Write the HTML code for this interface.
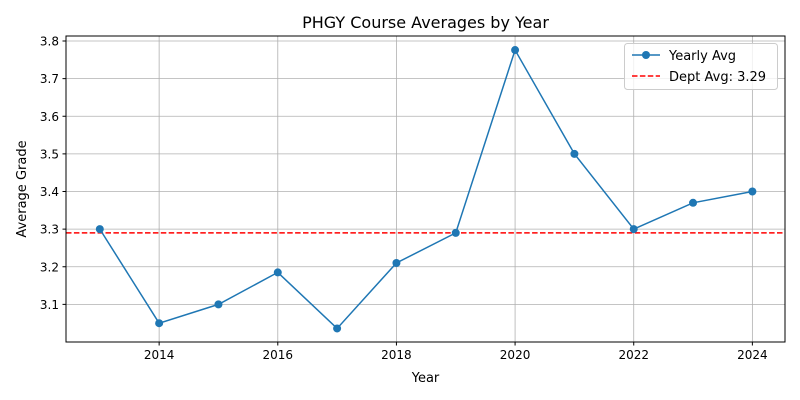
<!DOCTYPE html>
<html><head><meta charset="utf-8"><style>
body{margin:0;background:#fff;}
svg{display:block;font-family:"DejaVu Sans","Liberation Sans",sans-serif;}
</style></head><body>
<svg id="chart" width="800" height="400">
<rect width="800" height="400" fill="#fff"/>
<text x="425.5" y="28" font-size="16" text-anchor="middle">PHGY Course Averages by Year</text>
<g id="grid"></g><g id="ticks"></g><g id="marks"></g>
<rect x="66" y="36" width="719" height="306" fill="none" stroke="#000" stroke-width="1"/>
<text x="425.5" y="382" font-size="13" text-anchor="middle">Year</text>
<text transform="translate(26,189) rotate(-90)" font-size="13" text-anchor="middle">Average Grade</text>
<g>
<rect x="624.5" y="43.5" width="153" height="46" rx="3" fill="#fff" fill-opacity="0.8" stroke="#ccc"/>
<g>
<line x1="632" y1="55" x2="660" y2="55" stroke="#1f77b4" stroke-width="1.5"/>
<circle cx="646" cy="55" r="4" fill="#1f77b4"/>
<text x="669" y="60" font-size="13">Yearly Avg</text></g>
<g>
<line x1="632" y1="76" x2="660" y2="76" stroke="#ff0000" stroke-width="1.5" stroke-dasharray="5.5,2.4"/>
<text x="669" y="81" font-size="13">Dept Avg: 3.29</text></g>
</g>
</svg>
<script>
const years=[2013,2014,2015,2016,2017,2018,2019,2020,2021,2022,2023,2024];
const avgs=[3.30,3.05,3.10,3.185,3.036,3.21,3.29,3.776,3.50,3.30,3.37,3.40];
const deptAvg=3.29;
const xTicks=[2014,2016,2018,2020,2022,2024];
const yTicks=[3.1,3.2,3.3,3.4,3.5,3.6,3.7,3.8];
const NS="http://www.w3.org/2000/svg";
const X0=66,X1=785,Y0=342,Y1=36,xmin=2012.43,xmax=2024.55,ymin=3.0,ymax=3.8133;
const sx=v=>X0+(v-xmin)/(xmax-xmin)*(X1-X0);
const sy=v=>Y0-(v-ymin)/(ymax-ymin)*(Y0-Y1);
function mk(tag,attrs,parent){const e=document.createElementNS(NS,tag);for(const k in attrs)e.setAttribute(k,attrs[k]);document.getElementById(parent).appendChild(e);return e;}
xTicks.forEach(t=>{const x=sx(t);
 const g=mk('line',{x1:x,x2:x,y1:Y1,y2:Y0,stroke:'#b0b0b0','stroke-width':0.8},'grid');
 
 
 mk('line',{x1:x,x2:x,y1:Y0,y2:Y0+3.5,stroke:'#000'},'ticks');
 const l=mk('text',{x:x,y:Y0+17,'font-size':12,'text-anchor':'middle'},'ticks');l.textContent=t;
 
 
});
yTicks.forEach(t=>{const y=sy(t);
 const g=mk('line',{x1:X0,x2:X1,y1:y,y2:y,stroke:'#b0b0b0','stroke-width':0.8},'grid');
 
 
 mk('line',{x1:X0-3.5,x2:X0,y1:y,y2:y,stroke:'#000'},'ticks');
 const l=mk('text',{x:X0-7,y:y+4.5,'font-size':12,'text-anchor':'end'},'ticks');l.textContent=t.toFixed(1);
 
 
});
const dl=mk('line',{x1:X0,x2:X1,y1:sy(deptAvg),y2:sy(deptAvg),stroke:'#ff0000','stroke-width':1.5,'stroke-dasharray':'5.5,2.4'},'marks');


const pl=mk('polyline',{points:years.map((y,i)=>sx(y)+','+sy(avgs[i])).join(' '),fill:'none',stroke:'#1f77b4','stroke-width':1.5},'marks');


years.forEach((y,i)=>{const c=mk('circle',{cx:sx(y),cy:sy(avgs[i]),r:4,fill:'#1f77b4'},'marks');
 
 
});
</script>
</body></html>
